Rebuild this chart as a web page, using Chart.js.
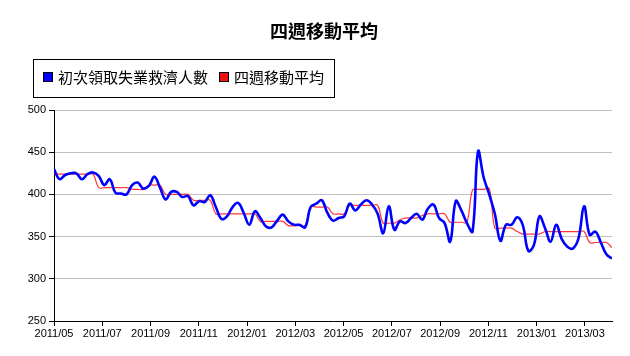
<!DOCTYPE html>
<html><head><meta charset="utf-8">
<script src="https://cdn.jsdelivr.net/npm/chart.js@4/dist/chart.umd.min.js"></script>
<style>html,body{margin:0;padding:0;background:#fff}#wrap{width:630px;height:356px;position:relative}</style>
</head><body><div id="wrap"><canvas id="c" width="630" height="356"></canvas></div>
<script>
const chartTitle = '四週移動平均';
const seriesNames = ['初次領取失業救濟人數', '四週移動平均'];
const tickLabels = ['2011/05','2011/07','2011/09','2011/11','2012/01','2012/03','2012/05','2012/07','2012/09','2012/11','2013/01','2013/03'];
const claims = [
  430,418,423,425,425,418,424,426,422,411,
  418,402,401,400,411,414,407,410,421,408,
  394,403,403,397,398,387,392,391,399,385,
  371,374,385,390,378,364,380,372,362,361,
  369,376,368,364,364,361,385,389,393,378,
  369,372,374,389,381,388,393,388,377,354,
  386,358,368,366,372,377,370,383,388,372,
  366,344,392,381,366,356,451,420,400,377,
  345,364,364,373,364,333,340,374,360,344,
  364,347,338,336,348,386,352,356,343,329,
  324];
const movingAvg = [
  424,424,424,424,424,424,424,424,408,408,
  408,408,408,408,406,406,406,411,411,411,
  400,400,400,400,400,393,393,393,393,377,
  377,377,377,377,377,377,377,368,368,368,
  368,368,363,363,363,363,385,385,385,385,
  377,377,377,387,387,387,387,387,387,366,
  366,366,370,372,372,372,375,377,377,377,
  377,367,367,367,367,405,406,406,407,360,
  360,360,360,356,353,353,353,353,356,356,
  356,356,356,356,356,356,343,343,343,343,
  337];
const yMin = 250, yMax = 500, yStep = 50;
const tickStepWeeks = 8.65;

const tickFont = {family: "'Liberation Sans', Arial, sans-serif", size: 11};
const cjk = "'Noto Sans CJK TC', 'Noto Sans CJK SC', sans-serif";

const decor = {
  id: 'decor',
  afterDraw(chart) {
    const ctx = chart.ctx;
    ctx.save();
    ctx.fillStyle = '#000';
    ctx.font = 'bold 18px ' + cjk;
    ctx.textAlign = 'center';
    ctx.textBaseline = 'middle';
    ctx.fillText(chartTitle, 324, 31);
    // legend box
    ctx.strokeStyle = '#000';
    ctx.lineWidth = 1;
    ctx.strokeRect(33.5, 59.5, 301, 38);
    ctx.font = '15px ' + cjk;
    ctx.textAlign = 'left';
    let x = 43;
    chart.data.datasets.forEach((ds) => {
      ctx.fillStyle = ds.legendColor;
      ctx.fillRect(x, 72, 10, 10);
      ctx.strokeStyle = '#000';
      ctx.strokeRect(x + 0.5, 72.5, 9, 9);
      ctx.fillStyle = '#000';
      ctx.fillText(ds.label, x + 15, 77.5);
      x += 15 + ctx.measureText(ds.label).width + 11;
    });
    ctx.restore();
  }
};

new Chart(document.getElementById('c'), {
  type: 'line',
  data: {
    datasets: [
      {label: seriesNames[0], data: claims.map((v, i) => ({x: i, y: v})), borderColor: '#0000ff', legendColor: '#0000ff', borderWidth: 2.6, pointRadius: 0, tension: 0.4, fill: false},
      {label: seriesNames[1], data: movingAvg.map((v, i) => ({x: i, y: v})), borderColor: 'rgba(255,20,20,0.85)', legendColor: '#ee1111', borderWidth: 1.2, pointRadius: 0, tension: 0.4, fill: false}
    ]
  },
  options: {
    responsive: false,
    animation: false,
    devicePixelRatio: 1,
    layout: {padding: {top: 110, left: 0, right: 18, bottom: 0}},
    plugins: {legend: {display: false}, title: {display: false}, tooltip: {enabled: false}},
    scales: {
      x: {
        type: 'linear', min: 0, max: claims.length - 1,
        afterFit(scale) { scale.height = 35; },
        afterBuildTicks(scale) { scale.ticks = tickLabels.map((_, k) => ({value: k * tickStepWeeks})); },
        ticks: {autoSkip: false, maxRotation: 0, color: '#000', font: tickFont, padding: 1,
          callback: (v, idx) => tickLabels[idx]},
        grid: {drawOnChartArea: false, drawTicks: true, tickLength: 5, tickColor: '#000', color: '#000'},
        border: {display: true, color: '#000', width: 1}
      },
      y: {
        min: yMin, max: yMax,
        afterFit(scale) { scale.width = 54; },
        ticks: {stepSize: yStep, color: '#000', font: tickFont, padding: 3},
        grid: {color: (c) => (c.tick && c.tick.value === yMin) ? 'rgba(0,0,0,0)' : '#c0c0c0', tickColor: '#000', tickLength: 5, lineWidth: 1},
        border: {display: true, color: '#000', width: 1}
      }
    }
  },
  plugins: [decor]
});
</script>
</body></html>
